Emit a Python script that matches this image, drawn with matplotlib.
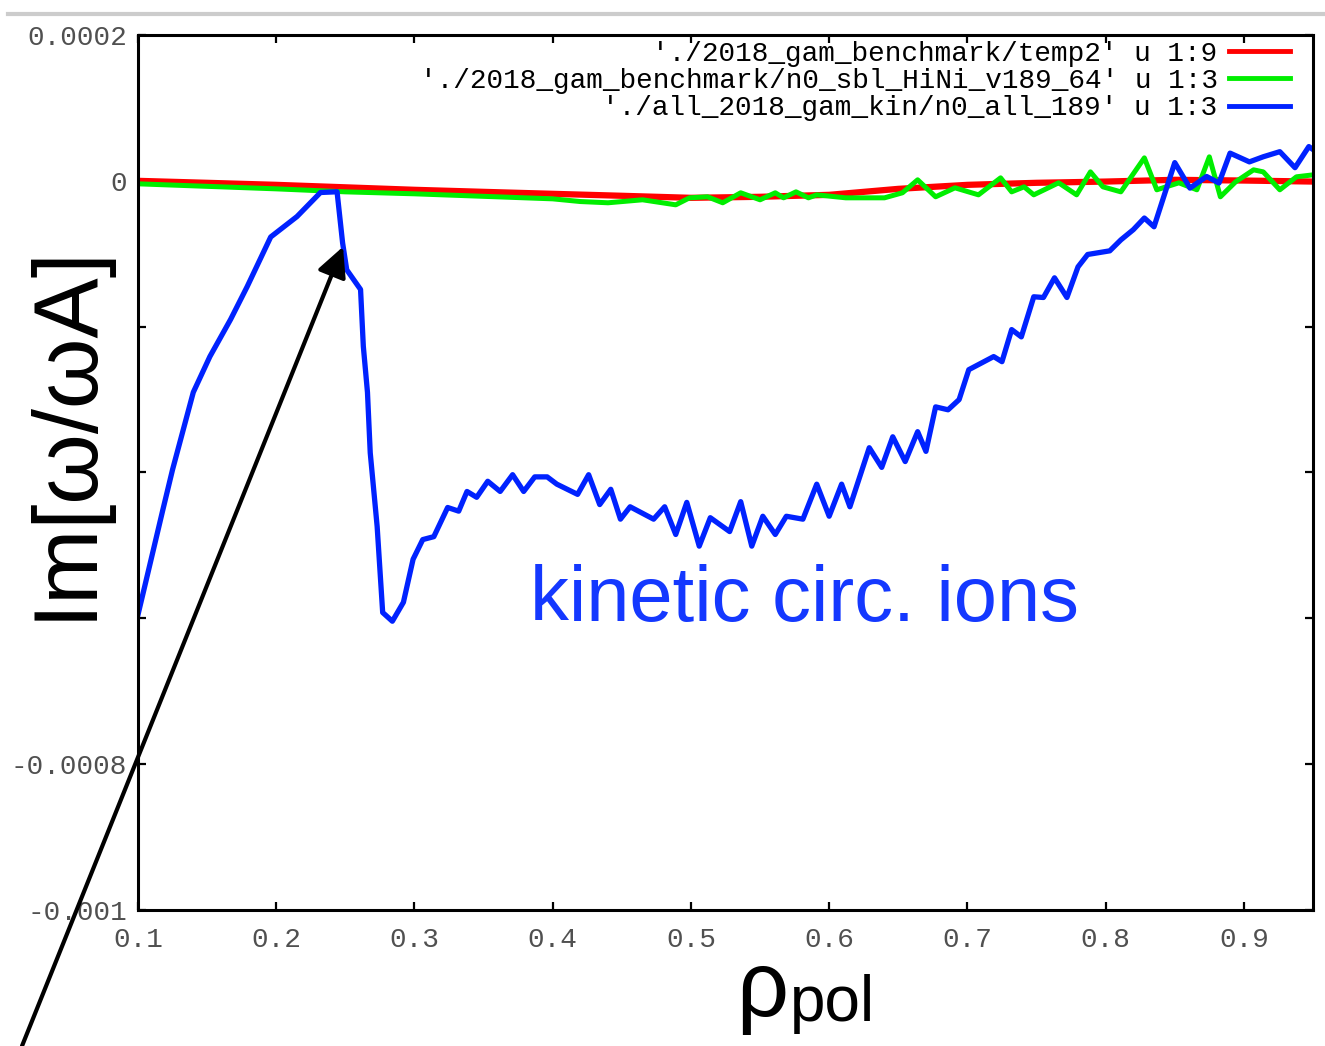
import numpy as np
import matplotlib
matplotlib.use('Agg')
import matplotlib.pyplot as plt
from matplotlib.lines import Line2D

# growth rate vs rho_pol
rho_red = [0.10, 0.15, 0.20, 0.25, 0.30, 0.35, 0.40, 0.45, 0.50, 0.55,
           0.60, 0.65, 0.70, 0.75, 0.80, 0.85, 0.90, 0.95]
im_red = [0.0, -0.27e-5, -0.55e-5, -0.89e-5, -1.23e-5, -1.51e-5, -1.78e-5,
          -2.05e-5, -2.33e-5, -2.19e-5, -1.92e-5, -1.10e-5, -0.55e-5,
          -0.27e-5, -0.10e-5, 0.14e-5, 0.04e-5, -0.10e-5]

rho_green = [0.100, 0.200, 0.250, 0.300, 0.400, 0.420, 0.440, 0.465, 0.489,
             0.499, 0.512, 0.523, 0.536, 0.550, 0.561, 0.567, 0.576, 0.585,
             0.591, 0.612, 0.640, 0.653, 0.664, 0.677, 0.691, 0.708, 0.724,
             0.732, 0.741, 0.748, 0.760, 0.766, 0.779, 0.789, 0.798, 0.811,
             0.828, 0.837, 0.853, 0.866, 0.875, 0.883, 0.894, 0.907, 0.914,
             0.926, 0.938, 0.950]
im_green = [-0.41e-5, -1.10e-5, -1.51e-5, -1.78e-5, -2.47e-5, -2.84e-5,
            -3.01e-5, -2.60e-5, -3.29e-5, -2.33e-5, -2.19e-5, -3.01e-5,
            -1.64e-5, -2.60e-5, -1.64e-5, -2.33e-5, -1.51e-5, -2.33e-5,
            -1.92e-5, -2.33e-5, -2.33e-5, -1.64e-5, 0.14e-5, -2.19e-5,
            -0.96e-5, -1.92e-5, 0.41e-5, -1.51e-5, -0.82e-5, -1.92e-5,
            -0.82e-5, -0.27e-5, -1.92e-5, 1.23e-5, -0.82e-5, -1.51e-5,
            3.15e-5, -1.23e-5, -0.27e-5, -1.23e-5, 3.29e-5, -2.19e-5,
            -0.14e-5, 1.51e-5, 1.23e-5, -1.23e-5, 0.55e-5, 0.82e-5]

rho_blue = [0.100, 0.118, 0.125, 0.140, 0.152, 0.167, 0.179, 0.196, 0.215,
            0.232, 0.244, 0.248, 0.251, 0.261, 0.263, 0.266, 0.268, 0.273,
            0.277, 0.284, 0.292, 0.299, 0.306, 0.314, 0.324, 0.332, 0.338,
            0.345, 0.353, 0.362, 0.371, 0.379, 0.387, 0.396, 0.403, 0.418,
            0.426, 0.434, 0.442, 0.449, 0.456, 0.473, 0.481, 0.489, 0.497,
            0.506, 0.514, 0.528, 0.536, 0.544, 0.552, 0.561, 0.569, 0.581,
            0.591, 0.600, 0.609, 0.615, 0.629, 0.638, 0.646, 0.655, 0.664,
            0.670, 0.677, 0.686, 0.694, 0.701, 0.719, 0.725, 0.732, 0.739,
            0.748, 0.755, 0.763, 0.772, 0.780, 0.787, 0.803, 0.811, 0.820,
            0.828, 0.835, 0.850, 0.861, 0.873, 0.882, 0.890, 0.904, 0.914,
            0.926, 0.937, 0.947, 0.950]
im_blue = [-5.95e-4, -4.51e-4, -3.96e-4, -2.90e-4, -2.41e-4, -1.90e-4,
           -1.45e-4, -0.77e-4, -0.49e-4, -0.16e-4, -0.15e-4, -0.85e-4,
           -1.22e-4, -1.49e-4, -2.27e-4, -2.90e-4, -3.73e-4, -4.74e-4,
           -5.92e-4, -6.04e-4, -5.78e-4, -5.19e-4, -4.92e-4, -4.88e-4,
           -4.48e-4, -4.53e-4, -4.26e-4, -4.34e-4, -4.12e-4, -4.26e-4,
           -4.03e-4, -4.26e-4, -4.06e-4, -4.06e-4, -4.16e-4, -4.30e-4,
           -4.03e-4, -4.44e-4, -4.23e-4, -4.64e-4, -4.47e-4, -4.64e-4,
           -4.47e-4, -4.85e-4, -4.41e-4, -5.01e-4, -4.62e-4, -4.81e-4,
           -4.40e-4, -5.01e-4, -4.60e-4, -4.85e-4, -4.60e-4, -4.64e-4,
           -4.16e-4, -4.60e-4, -4.16e-4, -4.47e-4, -3.66e-4, -3.93e-4,
           -3.51e-4, -3.85e-4, -3.44e-4, -3.71e-4, -3.10e-4, -3.14e-4,
           -3.00e-4, -2.59e-4, -2.41e-4, -2.48e-4, -2.04e-4, -2.14e-4,
           -1.59e-4, -1.60e-4, -1.33e-4, -1.60e-4, -1.18e-4, -1.01e-4,
           -0.96e-4, -0.81e-4, -0.67e-4, -0.51e-4, -0.63e-4, 0.25e-4,
           -0.10e-4, 0.06e-4, -0.03e-4, 0.38e-4, 0.26e-4, 0.33e-4,
           0.40e-4, 0.18e-4, 0.47e-4, 0.43e-4]

legend_labels = ["'./2018_gam_benchmark/temp2' u 1:9",
                 "'./2018_gam_benchmark/n0_sbl_HiNi_v189_64' u 1:3",
                 "'./all_2018_gam_kin/n0_all_189' u 1:3"]
xticks = [0.1, 0.2, 0.3, 0.4, 0.5, 0.6, 0.7, 0.8, 0.9]
xtick_labels = ['0.1', '0.2', '0.3', '0.4', '0.5', '0.6', '0.7', '0.8', '0.9']
yticks = [0.0002, 0.0, -0.0002, -0.0004, -0.0006, -0.0008, -0.001]
# the middle labels are covered by the big ylabel in the original
ytick_labels = ['0.0002', '0', '', '', '', '-0.0008', '-0.001']

mono = 'Liberation Mono'
sans = 'Liberation Sans'

fig = plt.figure(figsize=(13.25, 10.46), dpi=100)
ax = fig.add_axes([138 / 1325, 136 / 1046, 1175 / 1325, 875 / 1046])

ax.plot(rho_red, im_red, color='#ff0000', lw=4.5, solid_joinstyle='miter')
ax.plot(rho_green, im_green, color='#00ee00', lw=3.6)
ax.plot(rho_blue, im_blue, color='#0022ff', lw=3.8)

ax.set_xlim(0.1, 0.95)
ax.set_ylim(-0.001, 0.0002)
ax.set_xticks(xticks)
ax.set_xticklabels(xtick_labels, family=mono, fontsize=20, color='#505050')
ax.set_yticks(yticks)
ax.set_yticklabels(ytick_labels, family=mono, fontsize=20, color='#505050')
ax.tick_params(direction='in', length=6, width=1.6, top=True, right=True)
ax.tick_params(axis='x', pad=12)
ax.tick_params(axis='y', pad=8)
for sp in ax.spines.values():
    sp.set_linewidth(2.2)

handles = [Line2D([], [], color='#ff0000', lw=3.5),
           Line2D([], [], color='#00ee00', lw=3.5),
           Line2D([], [], color='#0022ff', lw=3.5)]
leg = ax.legend(handles, legend_labels, loc='upper right', frameon=False,
                markerfirst=False, prop={'family': mono, 'size': 20},
                handlelength=2.2, handletextpad=0.4, labelspacing=0.05,
                borderaxespad=0.0, borderpad=0.2, bbox_to_anchor=(0.985, 1.0))

# big keynote-style labels
fig.text(66 / 1325, 1 - 432 / 1046, 'Im[ω/ωA]', rotation=90, ha='center',
         va='center', fontsize=65, family=sans, color='black')
fig.text(736 / 1325, 1 - 1016 / 1046, 'ρ', ha='left', va='baseline',
         fontsize=66, family=sans)
fig.text(790 / 1325, 1 - 1021 / 1046, 'pol', ha='left', va='baseline',
         fontsize=46, family=sans)
ax.text(0.3836, -6.04e-4, 'kinetic circ. ions', ha='left', va='baseline',
        fontsize=56, family=sans, color='#1438ff')

# arrow pointing at the peak of the blue curve
ax.annotate('', xy=(0.2483, -0.904e-4), xycoords='data',
            xytext=(22 / 1325, 0.0), textcoords='figure fraction',
            arrowprops=dict(arrowstyle='-|>,head_length=0.9,head_width=0.45',
                            color='black', lw=3, shrinkA=0, shrinkB=0,
                            mutation_scale=20),
            annotation_clip=False)

# grey strip at the very top (screenshot edge)
fig.add_artist(Line2D([8 / 1325, 1.0], [1 - 14 / 1046, 1 - 14 / 1046],
                      color='#cccccc', lw=3, transform=fig.transFigure))

fig.savefig('out.png', dpi=100)
